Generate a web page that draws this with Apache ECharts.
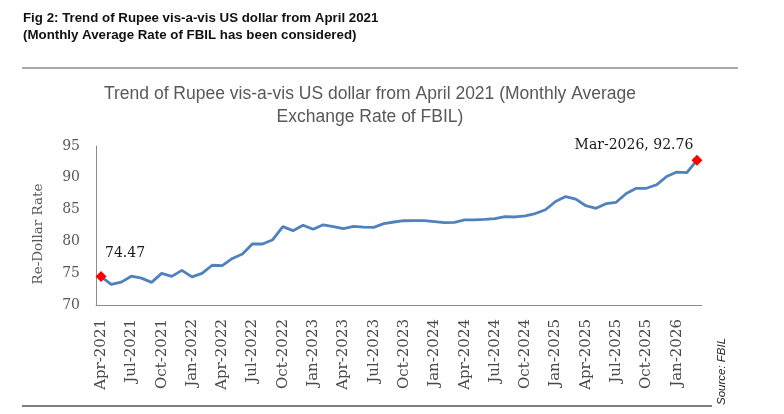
<!DOCTYPE html>
<html>
<head>
<meta charset="utf-8">
<script src="https://cdn.jsdelivr.net/npm/echarts@6/dist/echarts.min.js"></script>
<style>
html,body{margin:0;padding:0;background:#fff;}
#chart{width:784px;height:414px;}
</style>
</head>
<body>
<div id="chart"></div>
<script>
const months = ['Jan','Feb','Mar','Apr','May','Jun','Jul','Aug','Sep','Oct','Nov','Dec'];
const categories = [];
for (let y = 2021, m = 3; categories.length < 60; ) {
  categories.push(months[m] + '-' + y);
  m++; if (m === 12) { m = 0; y++; }
}
const rates = [
  74.47, 73.23, 73.59, 74.53, 74.22, 73.56, 74.97, 74.50, 75.44, 74.42,
  74.98, 76.25, 76.20, 77.32, 78.03, 79.62, 79.59, 80.27, 82.33, 81.69,
  82.53, 81.92, 82.61, 82.33, 82.01, 82.35, 82.23, 82.21, 82.79, 83.05,
  83.25, 83.28, 83.28, 83.12, 82.96, 83.00, 83.40, 83.39, 83.47, 83.59,
  83.90, 83.84, 84.03, 84.38, 84.97, 86.27, 87.05, 86.65, 85.61, 85.20,
  85.93, 86.15, 87.53, 88.35, 88.35, 88.90, 90.20, 90.90, 90.80, 92.76
];
const yTicks = [70, 75, 80, 85, 90, 95];
const figCaption = ['Fig 2: Trend of Rupee vis-a-vis US dollar from April 2021',
                    '(Monthly Average Rate of FBIL has been considered)'];
const chartTitle = 'Trend of Rupee vis-a-vis US dollar from April 2021 (Monthly Average\nExchange Rate of FBIL)';
const yName = 'Re-Dollar Rate';
const sourceText = 'Source: FBIL';

const last = rates.length - 1;
const seriesData = rates.map((v, i) => {
  if (i === 0) {
    return {value: v, symbol: 'diamond', symbolSize: 11, itemStyle: {color: '#FF0000'},
      label: {show: true, position: 'top', offset: [24, -6], formatter: String(v)}};
  }
  if (i === last) {
    return {value: v, symbol: 'diamond', symbolSize: 11, itemStyle: {color: '#FF0000'},
      label: {show: true, position: 'top', offset: [-63, 3], formatter: categories[i] + ', ' + v}};
  }
  return {value: v, symbol: 'none'};
});

const chart = echarts.init(document.getElementById('chart'), null, {renderer: 'canvas'});
chart.setOption({
  backgroundColor: '#ffffff',
  animation: false,
  title: {
    text: chartTitle,
    left: 365, textAlign: 'center', top: 78,
    textStyle: {fontFamily: 'Liberation Sans', fontSize: 17.5, fontWeight: 'normal', color: '#595959', lineHeight: 23}
  },
  graphic: [
    {type: 'text', left: 23, top: 12, style: {text: figCaption[0], font: 'bold 13.3px "Liberation Sans"', fill: '#111'}},
    {type: 'text', left: 23, top: 29, style: {text: figCaption[1], font: 'bold 13.3px "Liberation Sans"', fill: '#111'}},
    {type: 'line', shape: {x1: 22, y1: 68, x2: 738, y2: 68}, style: {stroke: '#555', lineWidth: 1.2}},
    {type: 'line', shape: {x1: 22, y1: 406, x2: 712, y2: 406}, style: {stroke: '#555', lineWidth: 1.5}},
    {type: 'text', x: 722, y: 405, rotation: Math.PI / 2, style: {text: sourceText, font: 'italic 11.5px "Liberation Sans"', fill: '#222', textAlign: 'left', textVerticalAlign: 'middle'}},
    {type: 'text', x: 38, y: 234, rotation: Math.PI / 2, style: {text: yName, font: '13.5px "DejaVu Serif"', fill: '#595959', textAlign: 'center', textVerticalAlign: 'middle'}}
  ],
  grid: {left: 96, right: 82, top: 146, bottom: 109},
  xAxis: {
    type: 'category',
    data: categories,
    boundaryGap: true,
    axisLine: {lineStyle: {color: '#8c8c8c', width: 1}},
    axisTick: {show: false},
    axisLabel: {interval: 2, rotate: 90, margin: 14, fontFamily: 'DejaVu Serif', fontSize: 15, color: '#4a4a4a'},
    splitLine: {show: false}
  },
  yAxis: {
    type: 'value',
    min: yTicks[0], max: yTicks[yTicks.length - 1], interval: 5,
    axisLine: {show: true, lineStyle: {color: '#8c8c8c', width: 1}},
    axisTick: {show: false},
    axisLabel: {margin: 16, fontFamily: 'DejaVu Serif', fontSize: 14, color: '#595959'},
    splitLine: {show: false}
  },
  series: [{
    type: 'line',
    data: seriesData,
    showSymbol: true,
    showAllSymbol: true,
    symbol: 'none',
    lineStyle: {color: '#4F81BD', width: 2.8},
    itemStyle: {color: '#4F81BD'},
    label: {fontFamily: 'DejaVu Serif', fontSize: 14, color: '#1a1a1a'},
    z: 3
  }]
});
</script>
</body>
</html>
